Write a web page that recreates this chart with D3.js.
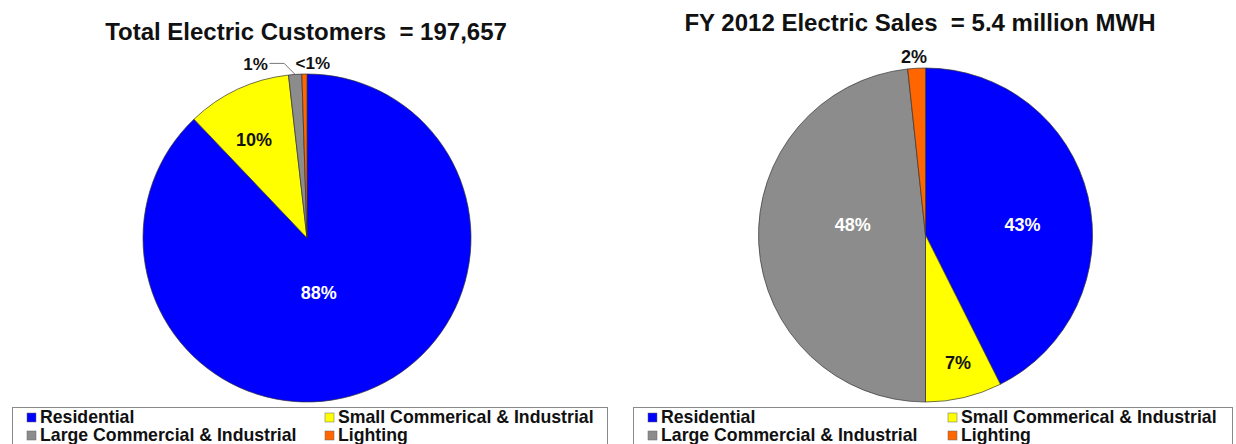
<!DOCTYPE html>
<html>
<head>
<meta charset="utf-8">
<script src="https://cdn.jsdelivr.net/npm/d3@7"></script>
<style>
  html, body { margin: 0; padding: 0; background: #ffffff; }
  svg { display: block; font-family: Arial, "Liberation Sans", sans-serif; }
  text { white-space: pre; }
</style>
</head>
<body>
<svg id="chart" width="1236" height="444"></svg>
<script>
// Customer classes, in slice order (clockwise from 12 o'clock)
const categories = ["Residential", "Small Commerical & Industrial", "Large Commercial & Industrial", "Lighting"];
const classColors = ["#0000FF", "#FFFF00", "#8C8C8C", "#FF6600"];

// Share of total electric customers (%)
const customerShares = [87.9, 10.3, 1.3, 0.5];
const customerTitle = "Total Electric Customers  = 197,657";

// Share of FY 2012 electric sales (%)
const salesShares = [42.6, 7.4, 48.3, 1.7];
const salesTitle = "FY 2012 Electric Sales  = 5.4 million MWH";

// Legend layout: two columns, two rows
const legendOrder = [[0, 1], [2, 3]];

const svg = d3.select("#chart");

function pctLabel(v) {
  return v < 1 ? "<1%" : Math.round(v) + "%";
}

function drawPie(cfg) {
  const g = svg.append("g");

  g.append("text")
    .attr("x", cfg.titleX).attr("y", cfg.titleY)
    .attr("text-anchor", "middle")
    .attr("font-size", 24).attr("font-weight", "bold")
    .attr("fill", "#111")
    .text(cfg.title);

  const pie = d3.pie().sort(null).value(d => d)(cfg.values);
  const arc = d3.arc().innerRadius(0).outerRadius(cfg.r);

  const pg = g.append("g").attr("transform", `translate(${cfg.cx},${cfg.cy})`);
  pg.selectAll("path.slice").data(pie).join("path")
    .attr("class", "slice")
    .attr("d", arc)
    .attr("fill", (d, i) => classColors[i])
    .attr("stroke", "#333")
    .attr("stroke-width", 0.7);

  const polar = (rad, ang) => [rad * Math.sin(ang), -rad * Math.cos(ang)];

  pie.forEach((d, i) => {
    const p = cfg.labels[i];
    const mid = (d.startAngle + d.endAngle) / 2;
    const [lx, ly] = polar(p.rf * cfg.r, mid + p.shift * Math.PI / 180);
    pg.append("text")
      .attr("x", lx).attr("y", ly)
      .attr("dy", "0.36em")
      .attr("text-anchor", "middle")
      .attr("font-size", p.size).attr("font-weight", "bold")
      .attr("fill", p.color)
      .text(pctLabel(cfg.values[i]));

    if (p.leader) {
      // leader from slice edge to the label
      const [sx, sy] = polar(cfg.r, mid);
      const ex = lx + 14;
      const bx = sx - 11;
      pg.append("polyline")
        .attr("points", `${sx},${sy} ${bx},${ly} ${ex},${ly}`)
        .attr("fill", "none")
        .attr("stroke", "#555")
        .attr("stroke-width", 0.8);
    }
  });

  // legend box
  const lg = g.append("g");
  lg.append("rect")
    .attr("x", cfg.legendX + 0.5).attr("y", 407.5)
    .attr("width", cfg.legendW).attr("height", 60)
    .attr("fill", "#fff")
    .attr("stroke", "#8a8a8a").attr("stroke-width", 1);

  legendOrder.forEach((row, ri) => {
    row.forEach((ci, col) => {
      const x = cfg.legendX + cfg.colX[col];
      const base = 423 + ri * 18;
      lg.append("rect")
        .attr("x", x).attr("y", base - 10)
        .attr("width", 9).attr("height", 9)
        .attr("fill", classColors[ci])
        .attr("stroke", "#666").attr("stroke-width", 0.5);
      lg.append("text")
        .attr("x", x + 13).attr("y", base)
        .attr("font-size", 17.7).attr("font-weight", "bold")
        .attr("fill", "#111")
        .text(categories[ci]);
    });
  });
}

drawPie({
  title: customerTitle, titleX: 306, titleY: 40,
  values: customerShares,
  cx: 307, cy: 238, r: 164,
  labels: [
    { rf: 0.34, shift: 9.6, size: 18, color: "#ffffff" },
    { rf: 0.68, shift: -3.3, size: 18, color: "#111" },
    { rf: 1.11, shift: -12.3, size: 17, color: "#111", leader: true },
    { rf: 1.068, shift: 2.8, size: 17, color: "#111" }
  ],
  legendX: 12, legendW: 595, colX: [15, 313]
});

drawPie({
  title: salesTitle, titleX: 920, titleY: 31,
  values: salesShares,
  cx: 925.5, cy: 235, r: 167,
  labels: [
    { rf: 0.584, shift: 7.1, size: 18, color: "#ffffff" },
    { rf: 0.79, shift: -0.9, size: 18, color: "#111" },
    { rf: 0.44, shift: 11.3, size: 18, color: "#ffffff" },
    { rf: 1.07, shift: -0.6, size: 18, color: "#111" }
  ],
  legendX: 633, legendW: 599, colX: [15, 315]
});
</script>
</body>
</html>
